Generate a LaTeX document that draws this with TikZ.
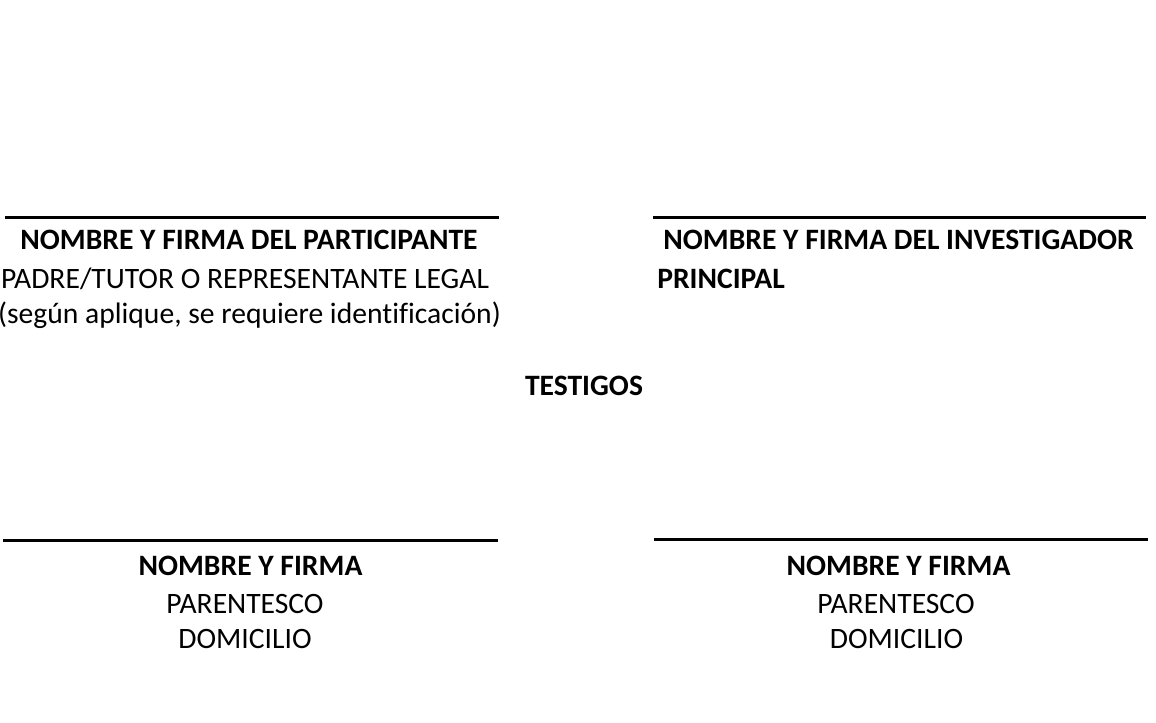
\documentclass[tikz,border=0pt]{standalone}
\usepackage{fontspec}
\setmainfont[Ligatures=NoCommon]{Carlito}
\begin{document}
\begin{tikzpicture}[x=0.75pt,y=-0.75pt,
  sigline/.style={line width=2.25pt,black},
  txt/.style={anchor=base,inner sep=0pt,font=\fontsize{22.2}{26}\selectfont},
  btxt/.style={txt,font=\fontsize{22.2}{26}\selectfont\bfseries}]
\useasboundingbox[fill=white] (0,0) rectangle (1156,722);
\coordinate (l1a) at (5,217); \coordinate (l1b) at (499,217);
\coordinate (l2a) at (653,217); \coordinate (l2b) at (1146,217);
\coordinate (l3a) at (3,540); \coordinate (l3b) at (498,540);
\coordinate (l4a) at (654,539); \coordinate (l4b) at (1148,539);
\draw[sigline] (l1a) -- (l1b);
\draw[sigline] (l2a) -- (l2b);
\draw[sigline] (l3a) -- (l3b);
\draw[sigline] (l4a) -- (l4b);
\node[btxt] (p1) at (249,249.5) {NOMBRE Y FIRMA DEL PARTICIPANTE};
\node[txt] (p2) at (245,288.5) {PADRE/TUTOR O REPRESENTANTE LEGAL};
\node[txt] (p3) at (249.5,323.5) {(según aplique, se requiere identificación)};
\node[btxt] (i1) at (898.5,249.5) {NOMBRE Y FIRMA DEL INVESTIGADOR};
\node[btxt,anchor=base west] (i2) at (657,288.5) {PRINCIPAL};
\node[btxt] (t) at (584,395.5) {TESTIGOS};
\node[btxt] (w1a) at (250.5,575.5) {NOMBRE Y FIRMA};
\node[txt] (w1b) at (245,613.5) {PARENTESCO};
\node[txt] (w1c) at (245,648.5) {DOMICILIO};
\node[btxt] (w2a) at (898.5,575.5) {NOMBRE Y FIRMA};
\node[txt] (w2b) at (896,613.5) {PARENTESCO};
\node[txt] (w2c) at (896.5,648.5) {DOMICILIO};
\end{tikzpicture}
\end{document}
